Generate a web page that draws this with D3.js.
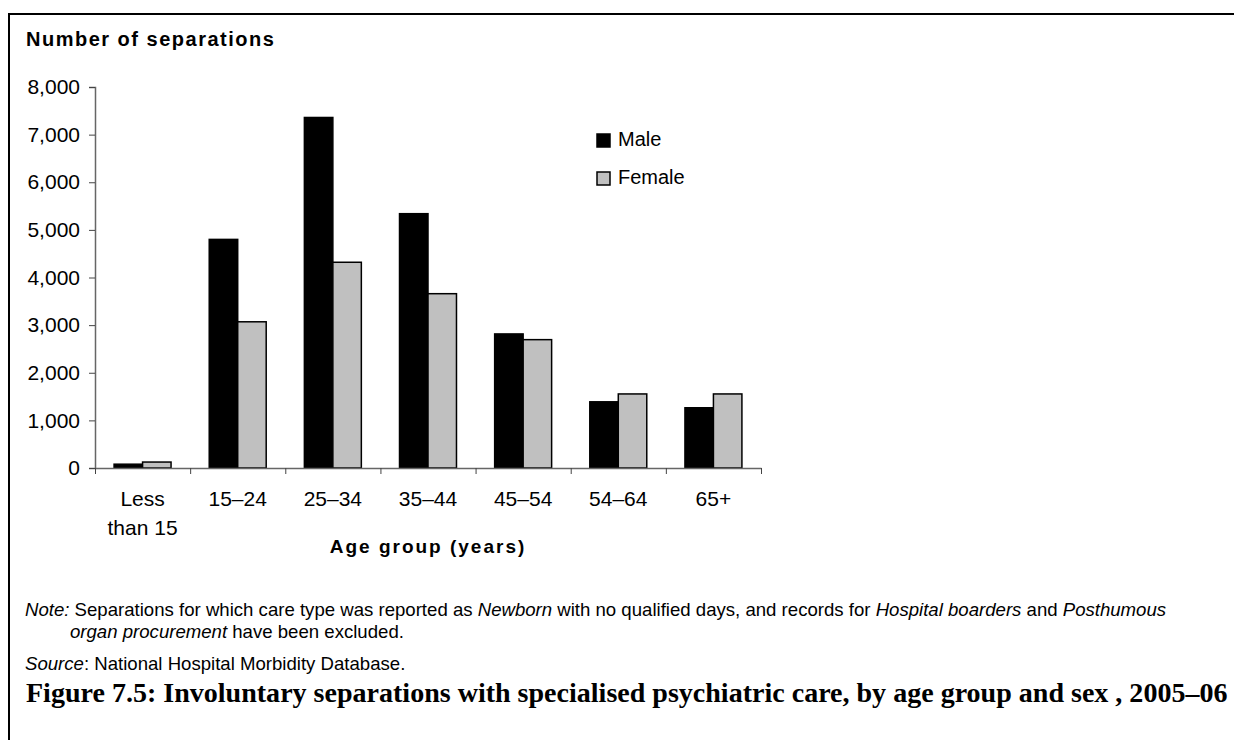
<!DOCTYPE html>
<html>
<head>
<meta charset="utf-8">
<script src="https://cdn.jsdelivr.net/npm/d3@7"></script>
<style>
  html, body { margin: 0; padding: 0; background: #fff; }
  svg { display: block; }
  .sans { font-family: "Liberation Sans", Arial, sans-serif; fill: #000; }
  .caption { font-family: "Liberation Serif", "Times New Roman", serif; font-weight: bold; fill: #000; }
</style>
</head>
<body>
<svg id="chart" width="1234" height="740"></svg>
<script>
const categories = ['Less than 15', '15–24', '25–34', '35–44', '45–54', '54–64', '65+']
const series = ['Male', 'Female']
const maleValues = [80, 4800, 7360, 5340, 2815, 1390, 1265]
const femaleValues = [125, 3070, 4320, 3660, 2695, 1555, 1555]
const yTicks = [0, 1000, 2000, 3000, 4000, 5000, 6000, 7000, 8000]

const colors = { Male: '#000000', Female: '#c0c0c0' }

const width = 1234, height = 740
const MARGIN = { top: 87, right: 473, bottom: 272, left: 95 }

const $svg = d3.select('#chart')

// frame, open on the right and bottom
$svg.append('path')
  .attr('d', `M9,${height} L9,14 L${width},14`)
  .attr('fill', 'none')
  .attr('stroke', '#000')
  .attr('stroke-width', 2)

const rows = categories.map((c, i) => ({ cat: c, Male: maleValues[i], Female: femaleValues[i] }))

const xScale = d3.scaleBand()
  .domain(categories)
  .range([MARGIN.left, width - MARGIN.right])
  .padding(0)
const xSub = d3.scaleBand()
  .domain(series)
  .range([0, xScale.bandwidth()])
  .paddingInner(0)
  .paddingOuter(0.67)
const yScale = d3.scaleLinear()
  .domain([0, 8000])
  .range([height - MARGIN.bottom, MARGIN.top])

// y axis
const yAxis = d3.axisLeft(yScale)
  .tickValues(yTicks)
  .tickSize(6)
  .tickPadding(9)
  .tickFormat(d3.format(','))
const $yAxis = $svg.append('g')
  .attr('transform', `translate(${MARGIN.left},0)`)
  .call(yAxis)
$yAxis.select('.domain').attr('stroke', '#666').attr('stroke-width', 1.5)
$yAxis.selectAll('.tick line').attr('stroke', '#444')
$yAxis.selectAll('.tick text')
  .attr('class', 'sans')
  .style('font-size', '21px')
  .attr('fill', '#000')

// bars
const $groups = $svg.append('g').selectAll('g')
  .data(rows)
  .join('g')
  .attr('transform', d => `translate(${xScale(d.cat)},0)`)
$groups.selectAll('rect')
  .data(d => series.map(s => ({ key: s, value: d[s] })))
  .join('rect')
  .attr('x', d => xSub(d.key))
  .attr('y', d => yScale(d.value))
  .attr('width', xSub.bandwidth())
  .attr('height', d => yScale(0) - yScale(d.value))
  .attr('fill', d => colors[d.key])
  .attr('stroke', '#000')
  .attr('stroke-width', 1.5)

// x axis: boundary ticks, labels drawn separately
const xAxis = d3.axisBottom(d3.scaleLinear().domain([0, categories.length]).range(xScale.range()))
  .ticks(categories.length)
  .tickSize(6)
  .tickSizeOuter(0)
  .tickFormat('')
const $xAxis = $svg.append('g')
  .attr('transform', `translate(0,${yScale(0)})`)
  .call(xAxis)
$xAxis.select('.domain').attr('stroke', '#666').attr('stroke-width', 1.5)
$xAxis.selectAll('.tick line').attr('stroke', '#444')

const $xLabels = $svg.append('g').selectAll('text')
  .data(categories)
  .join('text')
  .attr('class', 'sans')
  .attr('text-anchor', 'middle')
  .style('font-size', '21px')
  .attr('x', d => xScale(d) + xScale.bandwidth() / 2)
  .attr('y', yScale(0) + 38)
$xLabels.each(function (d) {
  const words = d === 'Less than 15' ? ['Less', 'than 15'] : [d]
  d3.select(this).selectAll('tspan')
    .data(words)
    .join('tspan')
    .attr('x', xScale(d) + xScale.bandwidth() / 2)
    .attr('dy', (w, i) => i === 0 ? 0 : 29)
    .text(w => w)
})

// axis titles
$svg.append('text')
  .attr('class', 'sans')
  .attr('x', 26).attr('y', 46)
  .style('font-size', '20px').style('font-weight', 'bold').style('letter-spacing', '1.5px')
  .text('Number of separations')
$svg.append('text')
  .attr('class', 'sans')
  .attr('text-anchor', 'middle')
  .attr('x', (xScale.range()[0] + xScale.range()[1]) / 2).attr('y', 553)
  .style('font-size', '19px').style('font-weight', 'bold').style('letter-spacing', '2px')
  .text('Age group (years)')

// legend
const $legend = $svg.append('g').attr('transform', 'translate(596,133)')
const $items = $legend.selectAll('g')
  .data(series)
  .join('g')
  .attr('transform', (d, i) => `translate(0,${i * 38})`)
$items.append('rect')
  .attr('x', 1).attr('y', 1)
  .attr('width', 13).attr('height', 13)
  .attr('fill', d => colors[d])
  .attr('stroke', '#000').attr('stroke-width', 1.5)
$items.append('text')
  .attr('class', 'sans')
  .attr('x', 22).attr('y', 13)
  .style('font-size', '20px')
  .text(d => d)

// notes
function richLine(x, y, parts) {
  const t = $svg.append('text')
    .attr('class', 'sans')
    .attr('x', x).attr('y', y)
    .style('font-size', '18.6px')
  parts.forEach(p => {
    t.append('tspan')
      .style('font-style', p[1] ? 'italic' : 'normal')
      .text(p[0])
  })
  return t
}
richLine(25, 616, [
  ['Note:', true], [' Separations for which care type was reported as ', false], ['Newborn', true],
  [' with no qualified days, and records for ', false], ['Hospital boarders', true],
  [' and ', false], ['Posthumous', true]
])
richLine(70, 638, [['organ procurement', true], [' have been excluded.', false]])
richLine(25, 670, [['Source', true], [': National Hospital Morbidity Database.', false]])

// figure caption, sized to span the same width as the original
const $cap = $svg.append('text')
  .attr('class', 'caption')
  .attr('x', 26).attr('y', 702)
  .style('font-size', '22px')
  .text('Figure 7.5: Involuntary separations with specialised psychiatric care, by age group and sex , 2005–06')
const capW = $cap.node().getComputedTextLength()
$cap.style('font-size', (22 * 1202 / capW).toFixed(2) + 'px')
</script>
</body>
</html>
